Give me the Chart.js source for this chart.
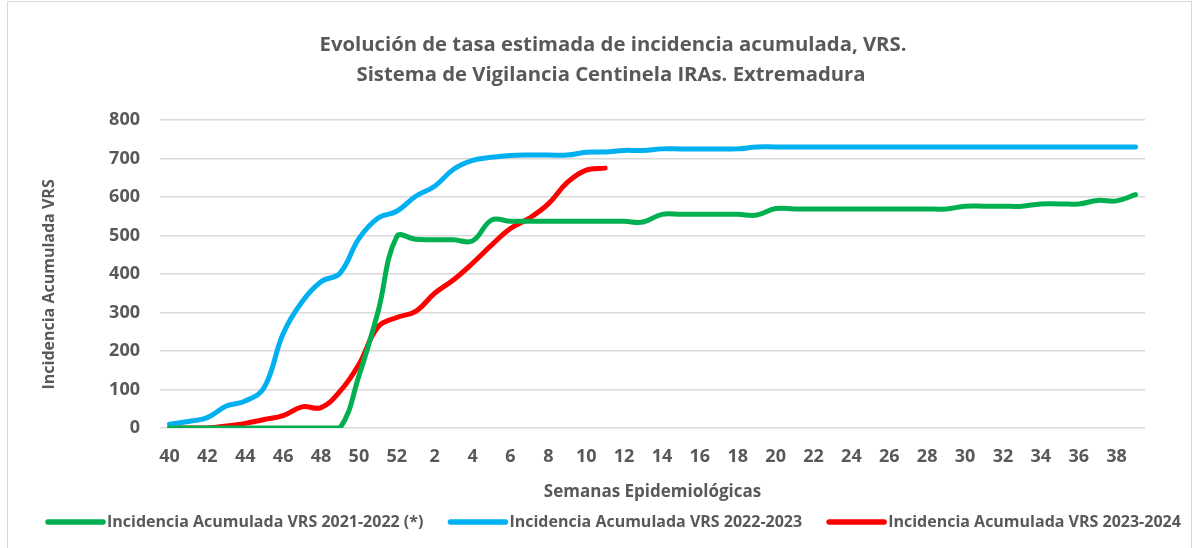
<!DOCTYPE html>
<html>
<head>
<meta charset="utf-8">
<title>Incidencia acumulada VRS</title>
<script src="https://cdn.jsdelivr.net/npm/chart.js@4/dist/chart.umd.min.js"></script>
<style>
    body { margin: 0; background: #ffffff; font-family: "Open Sans", sans-serif; }
    #wrap { position: relative; width: 1197px; height: 548px; }
    #frame { position: absolute; left: 7px; top: 1px; width: 1183px; height: 560px; border: 1px solid #d9d9d9; }
    canvas { position: absolute; left: 0; top: 0; }
</style>
</head>
<body>
<div id="wrap">
    <div id="frame"></div>
    <canvas id="myChart" width="1197" height="548"></canvas>
</div>
<script>
// Semanas epidemiológicas (40 a 52, luego 1 a 39)
var weeks = [40, 41, 42, 43, 44, 45, 46, 47, 48, 49, 50, 51, 52,
    1, 2, 3, 4, 5, 6, 7, 8, 9, 10, 11, 12, 13, 14, 15, 16, 17, 18, 19, 20,
    21, 22, 23, 24, 25, 26, 27, 28, 29, 30, 31, 32, 33, 34, 35, 36, 37, 38, 39];

var season2122 = [0, 0, 0, 0, 0, 0, 0, 0, 0, 0, 135, 300, 497,
    490, 489, 489, 486, 540, 537, 537, 537, 537, 537, 537, 537, 535, 555, 555, 555, 555, 555, 553, 570,
    569, 569, 569, 569, 569, 569, 569, 569, 569, 576, 576, 576, 576, 582, 582, 582, 591, 590, 606];

var season2223 = [10, 17, 27, 57, 70, 105, 245, 328, 380, 402, 492, 545, 563,
    602, 628, 672, 695, 703, 708, 709, 709, 709, 716, 717, 721, 721, 725, 725, 725, 725, 725, 730, 730,
    730, 730, 730, 730, 730, 730, 730, 730, 730, 730, 730, 730, 730, 730, 730, 730, 730, 730, 730];

var season2324 = [0, 0, 0, 5, 12, 22, 32, 55, 53, 95, 165, 262, 287,
    303, 350, 385, 428, 475, 518, 545, 582, 638, 670, 675];

var seriesLabels = ['Incidencia Acumulada VRS 2021-2022 (*)',
    'Incidencia Acumulada VRS 2022-2023',
    'Incidencia Acumulada VRS 2023-2024'];
var seriesColors = ['#00B050', '#00B0F0', '#FF0000'];

var titleLines = ['Evolución de tasa estimada de incidencia acumulada, VRS.',
    'Sistema de Vigilancia Centinela IRAs. Extremadura'];

var textColor = '#595959';
var fontName = '"Open Sans", sans-serif';

// titulo de dos lineas, centrado como en el original
var titlePlugin = {
    id: 'twoLineTitle',
    afterDraw: function (chart) {
        var c = chart.ctx;
        c.save();
        c.fillStyle = textColor;
        c.font = 'bold 20.3px ' + fontName;
        c.textAlign = 'center';
        c.textBaseline = 'middle';
        c.fillText(titleLines[0], 613, 45);
        c.fillText(titleLines[1], 611, 75);
        c.restore();
    }
};

// leyenda en una fila debajo del eje, con muestras de linea
var legendPlugin = {
    id: 'lineLegend',
    afterDraw: function (chart) {
        var c = chart.ctx;
        var x = 48;
        var y = 522;
        c.save();
        c.font = 'bold 16px ' + fontName;
        c.textBaseline = 'middle';
        c.textAlign = 'left';
        chart.data.datasets.forEach(function (ds) {
            c.strokeStyle = ds.borderColor;
            c.lineWidth = 5.5;
            c.lineCap = 'round';
            c.beginPath();
            c.moveTo(x, y);
            c.lineTo(x + 55, y);
            c.stroke();
            c.fillStyle = textColor;
            c.fillText(ds.label, x + 59, y);
            x += 59 + c.measureText(ds.label).width + 27;
        });
        c.restore();
    }
};

function makeDataset(i, values) {
    return {
        label: seriesLabels[i],
        data: values,
        borderColor: seriesColors[i],
        backgroundColor: seriesColors[i],
        borderWidth: 5,
        borderCapStyle: 'round',
        pointRadius: 0,
        pointHoverRadius: 0,
        tension: 0.4,
        fill: false
    };
}

var myChart;

function drawChart() {
    var ctx = document.getElementById('myChart').getContext('2d');
    myChart = new Chart(ctx, {
        type: 'line',
        data: {
            labels: weeks,
            datasets: [
                makeDataset(0, season2122),
                makeDataset(1, season2223),
                makeDataset(2, season2324)
            ]
        },
        options: {
            responsive: false,
            animation: false,
            layout: {
                padding: { left: 22, right: 52, top: 120, bottom: 51 }
            },
            plugins: {
                title: { display: false },
                tooltip: { enabled: false },
                legend: { display: false }
            },
            scales: {
                x: {
                    offset: true,
                    afterFit: function (scale) {
                        scale.height = 69;
                    },
                    grid: { display: false, drawTicks: false },
                    border: { display: false },
                    ticks: {
                        autoSkip: false,
                        maxRotation: 0,
                        padding: 18,
                        color: textColor,
                        font: { family: fontName, size: 18, weight: 'bold' },
                        callback: function (value, index) {
                            return index % 2 === 0 ? weeks[index] : '';
                        }
                    },
                    title: {
                        display: true,
                        text: 'Semanas Epidemiológicas',
                        color: textColor,
                        padding: { top: 0, bottom: -5 },
                        font: { family: fontName, size: 17, weight: 'bold' }
                    }
                },
                y: {
                    min: 0,
                    max: 800,
                    afterFit: function (scale) {
                        scale.width = 138;
                    },
                    grid: { color: '#d9d9d9', lineWidth: 1.5, drawTicks: false },
                    border: { display: false },
                    ticks: {
                        stepSize: 100,
                        padding: 20,
                        color: textColor,
                        font: { family: fontName, size: 18, weight: 'bold' }
                    },
                    title: {
                        display: true,
                        text: 'Incidencia Acumulada VRS\u00a0\u00a0\u00a0\u00a0\u00a0',
                        color: textColor,
                        padding: { top: 18, bottom: 0 },
                        font: { family: fontName, size: 16, weight: 'bold' }
                    }
                }
            }
        },
        plugins: [titlePlugin, legendPlugin]
    });
}

// esperar a que la fuente este lista antes de medir los textos
Promise.all([
    document.fonts.load('bold 16px "Open Sans"'),
    document.fonts.load('bold 18px "Open Sans"')
]).then(drawChart, drawChart);
</script>
</body>
</html>
